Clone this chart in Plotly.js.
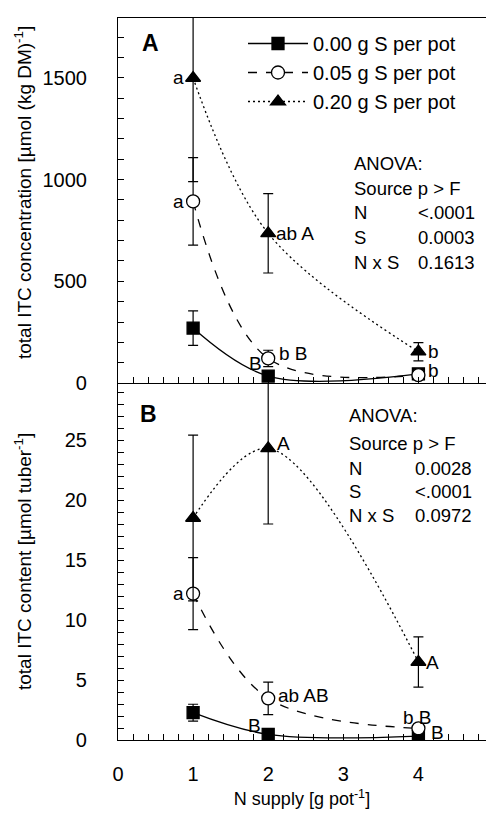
<!DOCTYPE html>
<html>
<head>
<meta charset="utf-8">
<script src="https://cdn.plot.ly/plotly-3.0.1.min.js"></script>
<style>html,body{margin:0;padding:0;background:#fff;}#chart{width:486px;height:819px;}</style>
</head>
<body>
<div id="chart"></div>
<script>
// ---- data ----
const nSupply = [1, 2, 4];
const seriesNames = ['0.00 g S per pot', '0.05 g S per pot', '0.20 g S per pot'];

// Panel A: total ITC concentration [µmol (kg DM)^-1]
const concS000 = [270, 34, 45];
const concS000Err = [85, 12, 10];
const concS005 = [893, 121, 39];
const concS005Err = [215, 40, 10];
const concS020 = [1500, 736, 154];
const concS020Err = [510, 195, 45];

// Panel B: total ITC content [µmol tuber^-1]
const contS000 = [2.28, 0.47, 0.33];
const contS000Err = [0.7, 0.2, 0.15];
const contS005 = [12.2, 3.47, 0.97];
const contS005Err = [3.0, 1.35, 0.3];
const contS020 = [18.5, 24.3, 6.5];
const contS020Err = [6.9, 6.3, 2.1];

const xTickVals = [0, 1, 2, 3, 4];
const xTickText = ['0', '1', '2', '3', '4'];

const titleX = 'N supply [g pot<sup>-1</sup>]';
const titleYA = 'total ITC concentration [µmol (kg DM)<sup>-1</sup>]';
const titleYB = 'total ITC content [µmol tuber<sup>-1</sup>]';

// significance letters: [series index, point index, text]
const lettersA = [
  [2, 0, 'a'], [1, 0, 'a'], [2, 1, 'ab A'], [1, 1, 'b B'], [0, 1, 'B'], [2, 2, 'b'], [1, 2, 'b']
];
const lettersB = [
  [1, 0, 'a'], [2, 1, 'A'], [1, 1, 'ab AB'], [0, 1, 'B'], [2, 2, 'A'], [1, 2, 'b B'], [0, 2, 'B']
];

const anovaA = [['N', '<.0001'], ['S', '0.0003'], ['N x S', '0.1613']];
const anovaB = [['N', '0.0028'], ['S', '<.0001'], ['N x S', '0.0972']];

// ---- styles ----
const FONT = 'Liberation Sans, Arial, Helvetica, sans-serif';
const lineDash = ['solid', 'dash', '2px,3px'];
const markerSym = ['square', 'circle', 'triangle-up'];
const markerFill = ['black', 'white', 'black'];
const markerSize = [12, 13, 13];

const concY = [concS000, concS005, concS020];
const concE = [concS000Err, concS005Err, concS020Err];
const contY = [contS000, contS005, contS020];
const contE = [contS000Err, contS005Err, contS020Err];

const traces = [];
for (let i = 0; i < 3; i++) {
  traces.push({
    type: 'scatter', mode: 'lines+markers', name: seriesNames[i],
    x: nSupply, y: concY[i], xaxis: 'x2', yaxis: 'y2',
    line: {color: 'black', width: 1.3, dash: lineDash[i], shape: 'spline', smoothing: 1},
    marker: {symbol: markerSym[i], size: markerSize[i], color: markerFill[i], line: {color: 'black', width: 1.3}},
    error_y: {type: 'data', array: concE[i], visible: true, color: 'black', thickness: 1.2, width: 5},
    showlegend: true, cliponaxis: true
  });
}
for (let i = 0; i < 3; i++) {
  traces.push({
    type: 'scatter', mode: 'lines+markers', name: seriesNames[i],
    x: nSupply, y: contY[i], xaxis: 'x', yaxis: 'y',
    line: {color: 'black', width: 1.3, dash: lineDash[i], shape: 'spline', smoothing: 1},
    marker: {symbol: markerSym[i], size: markerSize[i], color: markerFill[i], line: {color: 'black', width: 1.3}},
    error_y: {type: 'data', array: contE[i], visible: true, color: 'black', thickness: 1.2, width: 5},
    showlegend: false, cliponaxis: true
  });
}

// plot geometry helpers for text placement (paper coordinates)
const L = 118, R = 486, T = 18, B = 740;
const px = v => (v - L) / (R - L);
const py = v => (B - v) / (B - T);

const annotations = [];
function letterAnn(xref, yref, ys, list, offsets) {
  list.forEach((it, k) => {
    const [s, p, txt] = it;
    const o = offsets[k];
    annotations.push({
      xref: xref, yref: yref, x: nSupply[p], y: ys[s][p], text: txt, showarrow: false,
      xanchor: o[0], yanchor: 'middle', xshift: o[1], yshift: o[2],
      font: {family: FONT, size: 19, color: 'black'}
    });
  });
}
letterAnn('x2', 'y2', concY, lettersA, [
  ['right', -7, 0], ['right', -7, 0], ['left', 6, 0], ['left', 9, 5], ['right', -4, 13], ['left', 8, 0], ['left', 8, 5]
]);
letterAnn('x', 'y', contY, lettersB, [
  ['right', -7, 0], ['left', 7, 5], ['left', 8, 3], ['right', -5, 9], ['left', 6, 0], ['center', -1, 11], ['left', 11, 4]
]);

function anovaAnn(x0, x1, ys, rows) {
  const f = {family: FONT, size: 18.5, color: 'black'};
  annotations.push({xref: 'paper', yref: 'paper', x: px(x0), y: py(ys[0]), text: 'ANOVA:', showarrow: false, xanchor: 'left', yanchor: 'middle', font: f});
  annotations.push({xref: 'paper', yref: 'paper', x: px(x0), y: py(ys[1]), text: 'Source p &gt; F', showarrow: false, xanchor: 'left', yanchor: 'middle', font: f});
  rows.forEach((r, k) => {
    annotations.push({xref: 'paper', yref: 'paper', x: px(x0), y: py(ys[k + 2]), text: r[0], showarrow: false, xanchor: 'left', yanchor: 'middle', font: f});
    annotations.push({xref: 'paper', yref: 'paper', x: px(x1), y: py(ys[k + 2]), text: r[1], showarrow: false, xanchor: 'left', yanchor: 'middle', font: f});
  });
}
anovaAnn(352, 416, [164, 189, 213, 237, 262], anovaA);
anovaAnn(347, 413, [415, 443, 468, 492, 515], anovaB);

annotations.push({xref: 'paper', yref: 'paper', x: px(150), y: py(43), text: '<b>A</b>', showarrow: false, xanchor: 'center', yanchor: 'middle', font: {family: FONT, size: 23, color: 'black'}});
annotations.push({xref: 'paper', yref: 'paper', x: px(148), y: py(414), text: '<b>B</b>', showarrow: false, xanchor: 'center', yanchor: 'middle', font: {family: FONT, size: 23, color: 'black'}});

// y-axis titles (rotated text)
annotations.push({xref: 'paper', yref: 'paper', x: px(23), y: py(193), text: titleYA, textangle: -90, showarrow: false, xanchor: 'center', yanchor: 'middle', font: {family: FONT, size: 19, color: 'black'}});
annotations.push({xref: 'paper', yref: 'paper', x: px(23), y: py(562), text: titleYB, textangle: -90, showarrow: false, xanchor: 'center', yanchor: 'middle', font: {family: FONT, size: 19, color: 'black'}});

const splitY = py(383);
const axCommon = {
  showline: true, linecolor: 'black', linewidth: 1.2, showgrid: false, zeroline: false,
  ticks: 'inside', ticklen: 6, tickwidth: 1, tickcolor: 'black',
  tickfont: {family: FONT, size: 20, color: 'black'}
};

const layout = {
  width: 486, height: 819,
  margin: {l: L, r: 486 - R, t: T, b: 819 - B},
  paper_bgcolor: 'white', plot_bgcolor: 'white',
  font: {family: FONT, color: 'black'},
  showlegend: true,
  legend: {
    x: px(243), y: py(24), xanchor: 'left', yanchor: 'top',
    bgcolor: 'rgba(0,0,0,0)', borderwidth: 0,
    font: {family: FONT, size: 20, color: 'black'},
    itemwidth: 60, tracegroupgap: 0
  },
  xaxis: Object.assign({}, axCommon, {
    domain: [0, 1], range: [0, 4.9], anchor: 'y',
    tickmode: 'array', tickvals: xTickVals, ticktext: xTickText,
    ticklabelstandoff: 16,
    minor: {dtick: 0.2, tick0: 0, ticks: 'inside', ticklen: 6, tickcolor: 'black'},
    title: {text: titleX, font: {family: FONT, size: 18, color: 'black'}, standoff: 8}
  }),
  xaxis2: Object.assign({}, axCommon, {
    domain: [0, 1], range: [0, 4.9], anchor: 'y2', matches: 'x',
    tickmode: 'array', tickvals: xTickVals, showticklabels: false, mirror: true,
    minor: {dtick: 0.2, tick0: 0, ticks: 'inside', ticklen: 6, tickcolor: 'black'}
  }),
  yaxis: Object.assign({}, axCommon, {
    domain: [0, splitY], range: [0, 29.75], anchor: 'x',
    tick0: 0, dtick: 5, ticklabelstandoff: 26,
    minor: {dtick: 1, tick0: 0, ticks: 'inside', ticklen: 6, tickcolor: 'black'}
  }),
  yaxis2: Object.assign({}, axCommon, {
    domain: [splitY, 1], range: [0, 1795], anchor: 'x2',
    tick0: 0, dtick: 500, ticklabelstandoff: 26,
    minor: {dtick: 100, tick0: 0, ticks: 'inside', ticklen: 6, tickcolor: 'black'}
  }),
  annotations: annotations
};

Plotly.newPlot('chart', traces, layout, {displayModeBar: false, responsive: false});
</script>
</body>
</html>
